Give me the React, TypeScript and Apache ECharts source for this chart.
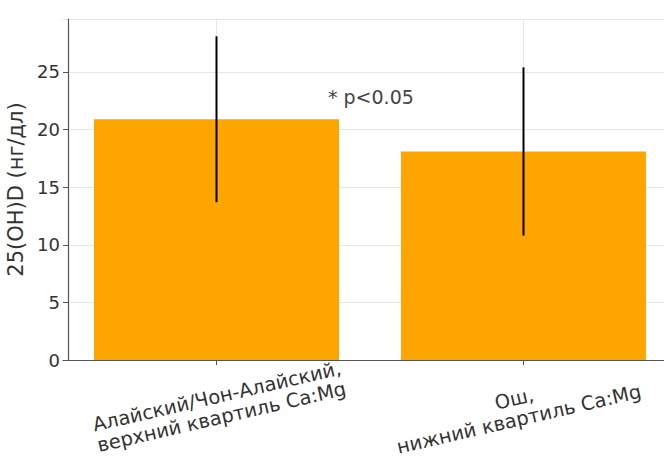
import React, { useEffect, useRef } from "react";
import * as echarts from "echarts";

const categories = ["Алайский/Чон-Алайский,\nверхний квартиль Ca:Mg", "Ош,\nнижний квартиль Ca:Mg"];
const means = [20.9, 18.1];
const errLow = [13.7, 10.8];
const errHigh = [28.1, 25.4];
const yName = "25(OH)D (нг/дл)";
const note = "* p<0.05";

const FONT = "DejaVu Sans";

export default function App() {
  const ref = useRef<HTMLDivElement>(null);
  useEffect(() => {
    if (!ref.current) return;
    const chart = echarts.init(ref.current, undefined, { renderer: "svg" });
    const labelStyle = { fontSize: 19.5, color: "#333", fontFamily: FONT, lineHeight: 21 };
    const option: any = {
      animation: false,
      backgroundColor: "#ffffff",
      textStyle: { fontFamily: FONT },
      grid: { left: 63, top: 19, bottom: 104, right: 23, containLabel: false, outerBoundsMode: "none" },
      xAxis: {
        type: "category",
        data: categories,
        axisLine: { show: true, lineStyle: { color: "#555", width: 1.2 } },
        axisTick: { show: true, alignWithLabel: true, length: 5, lineStyle: { color: "#555" } },
        axisLabel: {
          interval: 0,
          rotate: 13,
          align: "center",
          verticalAlign: "top",
          ...labelStyle,
          margin: 26,
          formatter: (v: string, idx: number) => {
            const key = idx === 0 ? "a" : "b";
            return v
              .split("\n")
              .map((l) => `{${key}|${l}}`)
              .join("\n");
          },
          rich: {
            a: { ...labelStyle, padding: [0, 4, 0, 0] },
            b: { ...labelStyle, padding: [0, 24, 0, 0] },
          },
        },
        splitLine: { show: false },
      },
      yAxis: {
        type: "value",
        min: 0,
        max: 29.6,
        interval: 5,
        offset: -5,
        name: yName,
        nameLocation: "middle",
        nameGap: 38,
        nameTextStyle: { fontSize: 21, color: "#333", fontFamily: FONT },
        axisLine: { show: true, onZero: false, lineStyle: { color: "#555", width: 1.2 } },
        axisTick: { show: true, length: 5, lineStyle: { color: "#555" } },
        axisLabel: { fontSize: 18, color: "#333", fontFamily: FONT, margin: 8, showMaxLabel: false },
        splitLine: { show: true, lineStyle: { color: "#e6e6e6", width: 1 } },
      },
      series: [
        {
          type: "bar",
          data: means,
          barWidth: 245,
          itemStyle: { color: "#FFA500" },
          z: 2,
          markLine: {
            silent: true,
            symbol: "none",
            label: { show: false },
            lineStyle: { color: "#e6e6e6", width: 1, type: "solid" },
            z: 1,
            data: categories.map((c) => ({ xAxis: c })),
          },
        },
        {
          type: "custom",
          data: means.map((_, i) => [i, errLow[i], errHigh[i]]),
          encode: { x: 0, y: [1, 2] },
          z: 3,
          renderItem: (params: any, api: any) => {
            const x = api.value(0);
            const p1 = api.coord([x, api.value(1)]);
            const p2 = api.coord([x, api.value(2)]);
            return {
              type: "line",
              shape: { x1: p1[0], y1: p1[1], x2: p2[0], y2: p2[1] },
              style: { stroke: "#000", lineWidth: 2 },
            };
          },
        },
      ],
      graphic: [
        {
          type: "text",
          left: 328,
          top: 87,
          style: { text: note, fontSize: 19, fill: "#444", fontFamily: FONT },
        },
      ],
    };
    chart.setOption(option);
    return () => chart.dispose();
  }, []);
  return (
    <div style={{ position: "fixed", left: 0, top: 0, width: 664, height: 464, overflow: "hidden", background: "#fff" }}>
      <div ref={ref} style={{ width: 700, height: 464 }} />
    </div>
  );
}
